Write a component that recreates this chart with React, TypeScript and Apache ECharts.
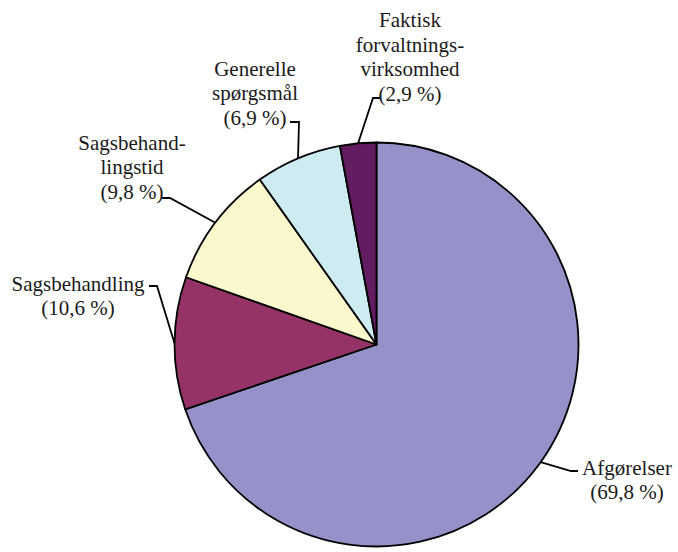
import React, { useEffect, useRef } from "react";
import * as echarts from "echarts";

const categories = [
  "Afgørelser",
  "Sagsbehandling",
  "Sagsbehand-\nlingstid",
  "Generelle\nspørgsmål",
  "Faktisk\nforvaltnings-\nvirksomhed",
];
const values = [69.8, 10.6, 9.8, 6.9, 2.9];
const percentLabels = ["69,8 %", "10,6 %", "9,8 %", "6,9 %", "2,9 %"];
const colors = ["#9591C9", "#953366", "#FBF8CD", "#CDEBF0", "#621C62"];

// label placement (layout only)
const labelLayoutSpec = [
  { x: 627, y: 480, elbow: [571, 471], end: [578, 471] },
  { x: 78, y: 296, elbow: [157, 286], end: [149, 286] },
  { x: 132, y: 167, elbow: [170, 198], end: [162, 198] },
  { x: 255, y: 93, elbow: [299, 122], end: [290, 122] },
  { x: 410, y: 57, elbow: [373, 98], end: [381, 98] },
];

export default function App() {
  const ref = useRef<HTMLDivElement>(null);
  useEffect(() => {
    if (!ref.current) return;
    const chart = echarts.init(ref.current, undefined, { renderer: "svg" });
    chart.setOption({
      animation: false,
      backgroundColor: "#ffffff",
      textStyle: { fontFamily: "'Liberation Serif', 'DejaVu Serif', serif" },
      series: [
        {
          type: "pie",
          center: [376.5, 344.5],
          radius: 202,
          startAngle: 90,
          clockwise: true,
          avoidLabelOverlap: false,
          itemStyle: { borderColor: "#000000", borderWidth: 1.8 },
          label: {
            show: true,
            position: "outside",
            color: "#1a1a1a",
            fontFamily: "'Liberation Serif', 'DejaVu Serif', serif",
            fontSize: 21,
            lineHeight: 24.5,
            align: "center",
            formatter: (p: any) => `${p.name}\n(${percentLabels[p.dataIndex]})`,
          },
          labelLine: {
            show: true,
            length: 20,
            length2: 10,
            lineStyle: { color: "#000000", width: 1.8 },
          },
          labelLayout: (params: any) => {
            const s = labelLayoutSpec[params.dataIndex];
            const a = params.labelLinePoints && params.labelLinePoints[0];
            return {
              x: s.x,
              y: s.y,
              align: "center",
              verticalAlign: "middle",
              labelLinePoints: a ? [a, s.elbow, s.end] : undefined,
            };
          },
          data: categories.map((name, i) => ({
            name,
            value: values[i],
            itemStyle: { color: colors[i] },
          })),
        },
      ],
    });
    return () => chart.dispose();
  }, []);
  return (
    <div
      ref={ref}
      style={{ position: "fixed", left: 0, top: 0, width: 678, height: 552 }}
    />
  );
}
